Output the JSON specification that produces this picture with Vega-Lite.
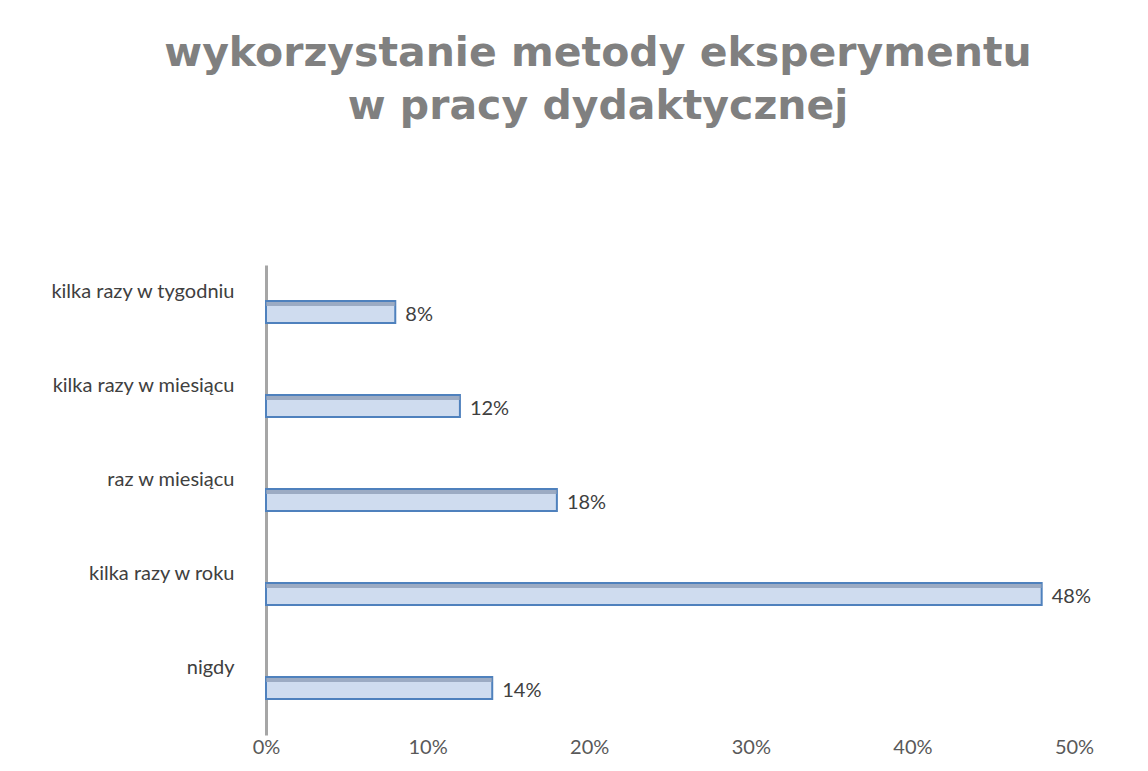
{
  "$schema": "https://vega.github.io/schema/vega-lite/v6.json",
  "autosize": {"type": "none"},
  "width": 808,
  "height": 470,
  "padding": {"left": 266, "top": 265, "right": 74, "bottom": 36},
  "background": "white",
  "title": {
    "text": ["wykorzystanie metody eksperymentu", "w pracy dydaktycznej"],
    "font": "DejaVu Sans",
    "fontSize": 41,
    "fontWeight": "bold",
    "color": "#808080",
    "lineHeight": 53,
    "anchor": "middle",
    "frame": "group",
    "baseline": "alphabetic",
    "offset": 105,
    "dx": -72
  },
  "config": {
    "view": {"stroke": null},
    "font": "Lato"
  },
  "data": {
    "values": [
      {"kategoria": "kilka razy w tygodniu", "wartosc": 0.08},
      {"kategoria": "kilka razy w miesiącu", "wartosc": 0.12},
      {"kategoria": "raz w miesiącu", "wartosc": 0.18},
      {"kategoria": "kilka razy w roku", "wartosc": 0.48},
      {"kategoria": "nigdy", "wartosc": 0.14}
    ]
  },
  "encoding": {
    "y": {
      "field": "kategoria",
      "type": "nominal",
      "sort": null,
      "title": null,
      "axis": {
        "domainColor": "#a6a6a6",
        "domainWidth": 3,
        "ticks": false,
        "labelFont": "Lato",
        "labelFontSize": 20,
        "labelColor": "#404040",
        "labelPadding": 32,
        "labelOffset": -20,
        "labelLimit": 300
      }
    },
    "x": {
      "field": "wartosc",
      "type": "quantitative",
      "scale": {"domain": [0, 0.5]},
      "title": null,
      "axis": {
        "format": ".0%",
        "values": [0, 0.1, 0.2, 0.3, 0.4, 0.5],
        "domain": false,
        "ticks": false,
        "grid": false,
        "labelFont": "Lato",
        "labelFontSize": 20,
        "labelColor": "#595959",
        "labelPadding": 2,
        "labelFlush": false
      }
    }
  },
  "layer": [
    {
      "mark": {"type": "bar", "size": 22, "fill": "#cfdcef", "stroke": "#4f81bd", "strokeWidth": 2}
    },
    {
      "mark": {"type": "bar", "size": 4, "yOffset": -8, "fill": "#8e9fb8", "opacity": 0.8}
    },
    {
      "mark": {"type": "text", "align": "left", "baseline": "middle", "dx": 10, "dy": 3, "fontSize": 20, "font": "Lato", "color": "#404040"},
      "encoding": {
        "text": {"field": "wartosc", "type": "quantitative", "format": ".0%"}
      }
    }
  ]
}
